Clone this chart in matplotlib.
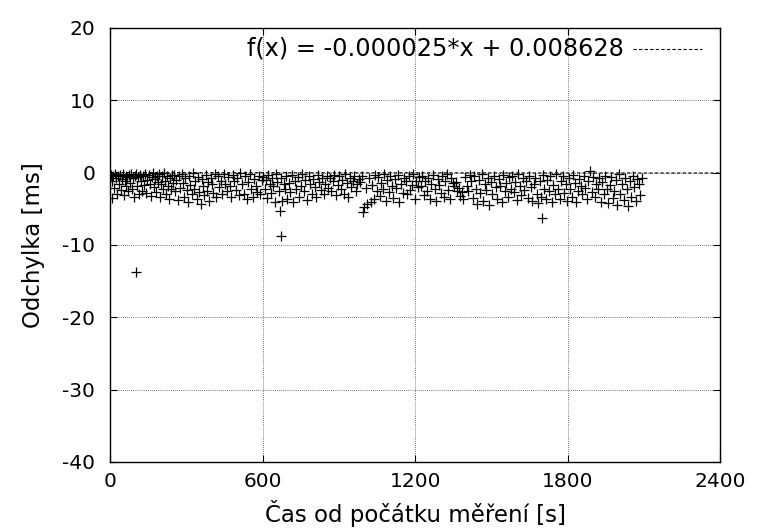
import numpy as np
import matplotlib.pyplot as plt

# measured offsets: time since start [s] and deviation [ms]
cas = [
    2, 5, 8, 12, 15, 18, 22, 26, 30, 33, 37, 41, 45, 48, 52, 56, 60, 63, 67, 71, 75, 79, 82, 86, 90, 94, 97,
    100,
    102, 106, 110, 114, 118, 122, 126, 130, 134, 138, 142, 146, 150, 154, 158, 162, 166, 170, 174, 178,
    182, 186, 190, 194, 198, 202, 206, 210, 214, 218, 222, 226, 230, 234, 238, 242, 246,
    250, 255, 260, 265, 270, 275, 280, 285, 290, 295, 300, 305, 310, 315, 320, 325, 330, 335, 340, 345,
    350, 355, 360, 365, 370, 375, 380, 385, 390, 395, 400, 405, 410, 415,
    422, 428, 434, 440, 446, 452, 458, 464, 470, 476, 482, 488, 494, 500, 506, 512, 518, 524, 530, 536,
    542, 548, 554, 560, 566, 572, 578, 584, 590, 596,
    602, 607, 612, 617, 622, 627, 632, 637, 642, 647, 652, 657, 662, 667, 670, 672, 677, 682, 687, 692, 697,
    702, 708, 714, 720, 726, 732, 738, 744, 750, 756, 762, 768, 774, 780, 786, 792, 798, 804, 810, 816,
    822, 828, 834, 840, 846, 852, 858,
    864, 870, 876, 882, 888, 894, 900, 906, 912, 918, 924, 930, 936, 942, 948, 954, 960, 966, 972, 978,
    984, 990, 996, 1000, 1006, 1012, 1018, 1024, 1030, 1036, 1042, 1048,
    1054, 1060, 1066, 1072, 1078, 1084, 1090, 1096, 1102, 1108, 1114, 1120, 1126, 1132, 1138, 1144, 1150,
    1156, 1162, 1168, 1174, 1180, 1186, 1192, 1198, 1204, 1210, 1216,
    1222, 1228, 1234, 1240, 1246, 1252, 1258, 1264, 1270, 1276, 1282, 1288, 1294, 1300, 1306, 1312, 1318,
    1324, 1330, 1336, 1342, 1348, 1354, 1360, 1366, 1372, 1378, 1384, 1390, 1396, 1402, 1408, 1414,
    1420, 1426, 1432, 1438, 1444, 1450, 1456, 1462, 1468, 1474, 1480, 1486, 1492, 1498, 1504, 1510, 1516,
    1522, 1528, 1534, 1540, 1546, 1552, 1558, 1564, 1570, 1576,
    1582, 1588, 1594, 1600, 1606, 1612, 1618, 1624, 1630, 1636, 1642, 1648, 1654, 1660, 1666, 1672, 1678,
    1684, 1690, 1696, 1700, 1702, 1708, 1714, 1720, 1726, 1732, 1738, 1744, 1750, 1756, 1762, 1768,
    1774, 1780, 1786, 1792, 1798, 1804, 1810, 1816, 1822, 1828, 1834, 1840, 1846, 1852, 1858, 1864, 1870,
    1876, 1882, 1888, 1894, 1900, 1906, 1912, 1918, 1924, 1930,
    1936, 1942, 1948, 1954, 1960, 1966, 1972, 1978, 1984, 1990, 1996, 2002, 2008, 2014, 2020, 2026, 2032,
    2038, 2044, 2050, 2056, 2062, 2068, 2074, 2080, 2086, 2092,
]
odchylka = [
    -0.3, -1.2, -3.5, -0.5, -2.1, -0.2, -0.8, -2.9, -0.4, -1.6, -0.3, -2.4, -0.9, -0.2, -3.1, -1.1, -0.4, -1.9,
    -0.6, -2.6, -0.3, -1.4, -0.2, -2.2, -0.7, -3.3, -0.5,
    -13.7,
    -0.2, -1.8, -0.6, -3.0, -0.3, -1.2, -2.5, -0.5, -1.7, -0.2, -2.8, -1.0, -0.3, -1.5, -3.2, -0.6, -0.1, -2.0,
    -0.9, -2.7, -0.4, -1.3, -0.2, -3.4, -1.6, -0.5, -2.3, -0.1, -1.1, -2.9, -0.4, -1.8, -3.6, -0.7, -2.2, -0.3, -1.4,
    -0.3, -2.6, -1.0, -3.8, -0.5, -2.1, -0.2, -1.4, -3.3, -0.8, -2.4, -4.0, -0.4, -1.7, -3.0, -0.1, -2.2, -1.1,
    -3.6, -0.6, -2.7, -4.4, -0.9, -1.9, -3.1, -0.3, -2.5, -1.3, -3.9, -0.7, -1.6, -2.8, -0.2, -3.4,
    -0.4, -2.0, -1.1, -3.0, -0.2, -1.5, -2.6, -0.6, -1.9, -3.3, -0.3, -1.2, -2.4, -0.8, -3.1, -0.1, -1.6, -2.9,
    -0.5, -3.6, -1.3, -0.2, -2.2, -3.4, -0.9, -1.8, -2.7, -0.4, -3.0, -1.0,
    -0.6, -2.3, -1.0, -3.5, -0.3, -1.6, -2.8, -0.8, -1.9, -4.1, -0.2, -1.3, -2.6, -5.3, -8.7, -0.7, -3.9, -1.5,
    -2.2, -0.4, -3.6,
    -1.4, -2.7, -0.3, -4.0, -1.1, -2.2, -0.6, -3.3, -1.8, -0.2, -2.5, -1.0, -3.8, -0.5, -1.6, -2.9, -0.9, -2.0,
    -3.4, -0.3, -1.3, -2.4, -0.7, -3.0, -1.5, -0.4, -2.1,
    -0.8, -2.6, -1.2, -0.3, -3.1, -1.7, -0.5, -2.2, -1.0, -2.9, -0.2, -1.4, -3.3, -0.7, -2.0, -1.1, -0.4, -2.5,
    -1.6, -0.9,
    -1.3, -0.5, -5.4, -4.8, -2.1, -4.4, -0.8, -4.0, -1.7, -3.6, -0.3, -2.6,
    -0.6, -3.2, -1.4, -2.3, -0.2, -3.9, -1.0, -2.7, -0.5, -1.8, -3.5, -0.9, -2.1, -0.3, -4.1, -1.5, -2.8, -0.7,
    -1.2, -3.0, -0.4, -2.4, -1.7, -0.2, -3.7, -1.1, -2.0, -0.6,
    -1.8, -0.4, -3.1, -1.2, -2.5, -0.8, -3.6, -1.5, -0.3, -2.2, -3.9, -0.9, -1.7, -2.8, -0.5, -3.3, -1.1, -0.2,
    -2.4, -3.7, -0.7, -1.4, -1.9, -1.3, -2.6, -2.1, -3.2, -2.7, -3.6, -0.6, -1.9, -2.6, -0.3,
    -1.2, -3.5, -0.5, -2.3, -4.3, -1.0, -2.8, -0.2, -3.9, -1.6, -2.4, -0.7, -4.5, -1.3, -3.0, -0.4, -2.0, -3.6,
    -0.9, -1.8, -4.1, -0.3, -2.6, -1.4, -3.3, -0.6, -2.2,
    -0.5, -2.7, -1.3, -3.8, -0.2, -1.9, -3.1, -0.8, -2.4, -1.1, -3.5, -0.4, -2.0, -3.9, -1.5, -0.7, -2.9, -4.2,
    -1.2, -3.3, -6.3, -0.3, -2.2, -3.7, -1.0, -2.6, -0.5, -4.0, -1.7, -3.0, -0.2, -2.3, -3.6,
    -1.1, -0.4, -2.8, -1.6, -3.9, -0.7, -2.2, -3.3, -0.3, -1.4, -4.1, -2.5, -0.9, -1.8, -3.0, -0.5, -2.1, -3.6,
    -1.2, 0.2, -2.7, -0.6, -3.4, -1.5, -2.3, -0.8, -4.0,
    -1.3, -3.0, -0.4, -2.2, -4.2, -1.7, -0.6, -3.5, -2.6, -1.0, -4.5, -0.2, -2.9, -1.5, -3.8, -0.8, -2.3, -4.6,
    -1.2, -3.3, -0.5, -2.0, -3.9, -0.9, -1.6, -3.1, -0.7,
]

# linear fit f(x) = a*x + b
fit_a = -0.000025
fit_b = 0.008628
fit_label = "f(x) = -0.000025*x + 0.008628"

x_ticks = [0, 600, 1200, 1800, 2400]
y_ticks = [20, 10, 0, -10, -20, -30, -40]

plt.rcParams['font.family'] = 'DejaVu Sans'
plt.rcParams['axes.unicode_minus'] = False

fig = plt.figure(figsize=(7.64, 5.32), dpi=100)
ax = fig.add_axes([0.1445, 0.1316, 0.798, 0.8158])

ax.plot(cas, odchylka, linestyle='none', marker='+', color='black',
        markersize=6.5, markeredgewidth=0.9)

xf = np.array([0, 2400])
ax.plot(xf, fit_a * xf + fit_b, color='black', linewidth=0.8, dashes=(3, 2))

ax.set_xlim(0, 2400)
ax.set_ylim(-40, 20)
ax.set_xticks(x_ticks)
ax.set_yticks(y_ticks)
ax.tick_params(axis='both', direction='in', length=5, width=0.8, top=True, right=True,
               labelsize=14.5, colors='black')
ax.tick_params(axis='y', pad=11)
ax.tick_params(axis='x', pad=7)
ax.grid(True, color='black', linestyle=(0, (1, 2)), linewidth=0.5)
for s in ax.spines.values():
    s.set_linewidth(1.0)

ax.set_xlabel('Čas od počátku měření [s]', fontsize=16.5, labelpad=7)
ax.set_ylabel('Odchylka [ms]', fontsize=16.5, labelpad=12)

# key entry in the top right corner
ax.text(0.843, 0.952, fit_label, transform=ax.transAxes, ha='right', va='center',
        fontsize=17.3)
ax.plot([0.858, 0.971], [0.952, 0.952], transform=ax.transAxes, color='black',
        linewidth=0.8, dashes=(3, 2))

fig.savefig('out.png', dpi=100)
